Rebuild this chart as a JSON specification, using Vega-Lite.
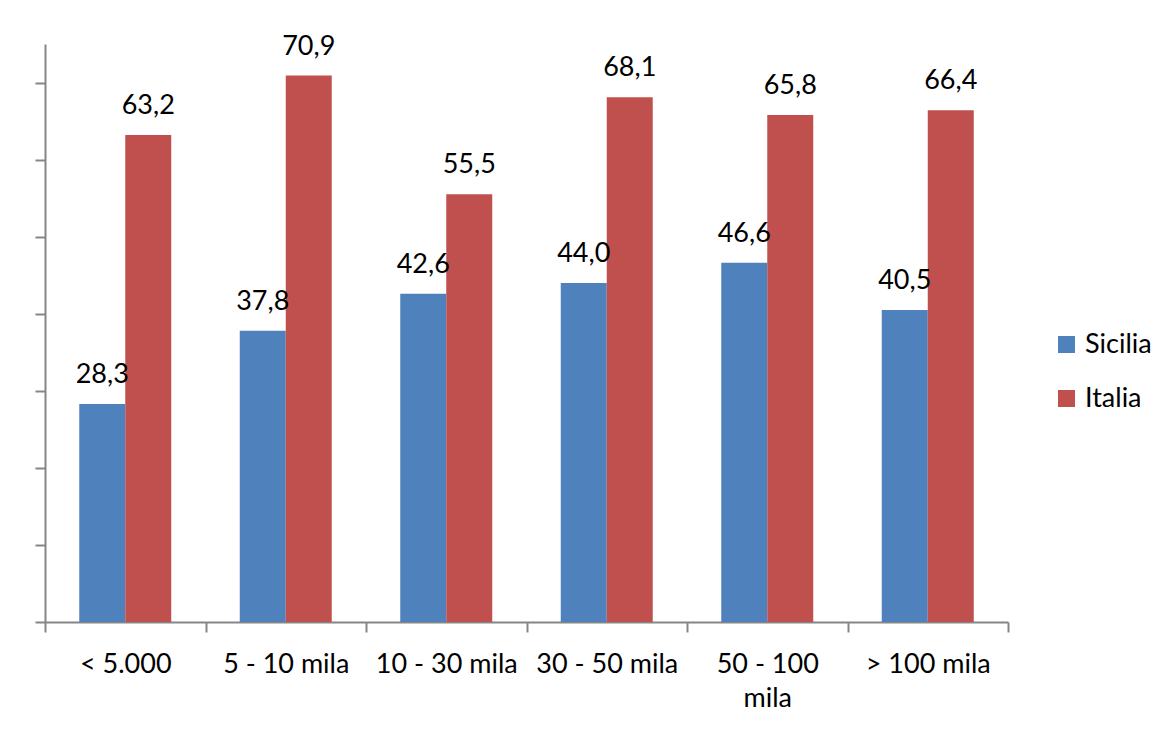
{
  "$schema": "https://vega.github.io/schema/vega-lite/v6.json",
  "width": 963,
  "height": 578,
  "autosize": {"type": "none"},
  "padding": {"left": 45, "top": 44, "right": 163, "bottom": 110},
  "background": "white",
  "config": {
    "locale": {"number": {"decimal": ",", "thousands": ".", "grouping": [3], "currency": ["€", ""]}},
    "view": {"stroke": null},
    "font": "Lato"
  },
  "data": {
    "values": [
      {"classe": "< 5.000", "area": "Sicilia", "valore": 28.3},
      {"classe": "< 5.000", "area": "Italia", "valore": 63.2},
      {"classe": "5 - 10 mila", "area": "Sicilia", "valore": 37.8},
      {"classe": "5 - 10 mila", "area": "Italia", "valore": 70.9},
      {"classe": "10 - 30 mila", "area": "Sicilia", "valore": 42.6},
      {"classe": "10 - 30 mila", "area": "Italia", "valore": 55.5},
      {"classe": "30 - 50 mila", "area": "Sicilia", "valore": 44.0},
      {"classe": "30 - 50 mila", "area": "Italia", "valore": 68.1},
      {"classe": "50 - 100 mila", "area": "Sicilia", "valore": 46.6},
      {"classe": "50 - 100 mila", "area": "Italia", "valore": 65.8},
      {"classe": "> 100 mila", "area": "Sicilia", "valore": 40.5},
      {"classe": "> 100 mila", "area": "Italia", "valore": 66.4}
    ]
  },
  "encoding": {
    "x": {
      "field": "classe", "type": "nominal", "sort": null,
      "scale": {"paddingInner": 0, "paddingOuter": 0},
      "axis": {
        "title": null, "labelAngle": 0, "labelFontSize": 27, "labelColor": "#000000",
        "labelFont": "Lato", "labelPadding": 19, "labelLineHeight": 34,
        "labelExpr": "datum.value == '50 - 100 mila' ? ['50 - 100', 'mila'] : datum.value",
        "domainColor": "#868686", "domainWidth": 2, "tickColor": "#868686", "tickWidth": 2,
        "tickSize": 10, "tickBand": "extent", "grid": false
      }
    },
    "xOffset": {"field": "area", "type": "nominal", "sort": ["Sicilia", "Italia"], "scale": {"paddingInner": 0, "paddingOuter": 0.7446}},
    "y": {
      "field": "valore", "type": "quantitative",
      "scale": {"domain": [0, 75], "nice": false},
      "axis": {
        "title": null, "labels": false, "grid": false, "values": [0, 10, 20, 30, 40, 50, 60, 70],
        "domainColor": "#868686", "domainWidth": 2, "tickColor": "#868686", "tickWidth": 2, "tickSize": 10
      }
    }
  },
  "layer": [
    {
      "mark": {"type": "bar"},
      "encoding": {
        "color": {
          "field": "area", "type": "nominal", "sort": ["Sicilia", "Italia"],
          "scale": {"domain": ["Sicilia", "Italia"], "range": ["#4F81BD", "#C0504D"]},
          "legend": {
            "title": null, "orient": "none", "legendX": 1008, "legendY": 287,
            "symbolType": "square", "symbolSize": 289, "symbolStrokeWidth": 0,
            "labelFontSize": 27, "labelFont": "Lato", "labelColor": "#000000",
            "labelOffset": 5, "rowPadding": 26
          }
        }
      }
    },
    {
      "mark": {"type": "text", "fontSize": 27, "font": "Lato", "color": "#000000", "baseline": "alphabetic", "dy": -21},
      "encoding": {
        "text": {"field": "valore", "type": "quantitative", "format": ".1f"}
      }
    }
  ]
}
